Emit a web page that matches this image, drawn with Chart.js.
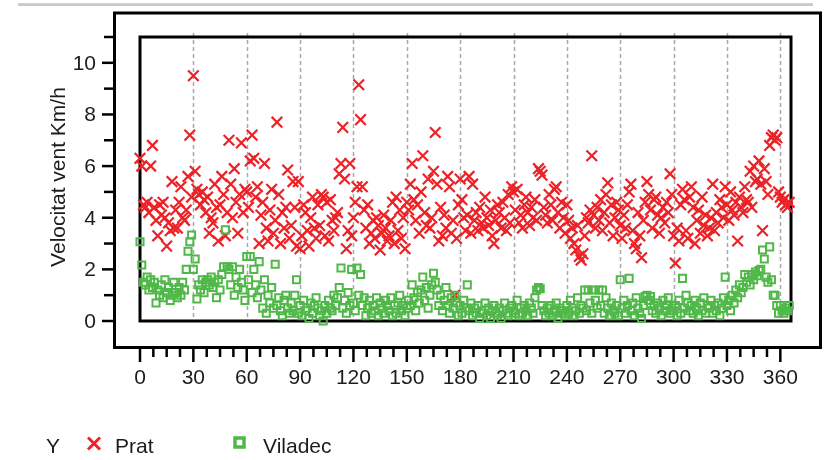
<!DOCTYPE html>
<html>
<head>
<meta charset="utf-8">
<script src="https://cdn.jsdelivr.net/npm/chart.js@4.4.1/dist/chart.umd.min.js"></script>
<style>
  html, body { margin: 0; padding: 0; background: #ffffff; }
  #wrap { width: 827px; height: 460px; position: relative; }
</style>
</head>
<body>
<div id="wrap"><canvas id="c" width="827" height="460"></canvas></div>
<script>
// Daily mean wind speed (km/h), one value per day of the year
const dayCount = 366;
const days = Array.from({ length: dayCount }, (_, i) => i);

const prat = [
  6.3, 6.0, 4.5, 4.4, 4.6, 4.2, 6.0, 6.8, 4.4, 3.9,
  3.3, 4.5, 4.1, 4.6, 4.0, 2.9, 3.8, 3.5, 5.4, 3.6,
  4.3, 3.6, 4.6, 5.2, 4.0, 3.9, 4.3, 5.6, 7.2, 4.8,
  9.5, 5.8, 5.1, 4.9, 4.5, 5.0, 4.7, 4.2, 4.8, 3.4,
  4.0, 3.8, 5.3, 4.4, 3.1, 4.5, 5.6, 4.9, 3.3, 4.2,
  7.0, 5.3, 4.0, 5.9, 4.6, 3.4, 4.9, 6.9, 4.2, 5.1,
  5.0, 4.4, 6.2, 7.2, 6.3, 4.8, 5.2, 3.0, 4.1, 4.6,
  6.1, 3.6, 3.1, 4.3, 5.1, 3.4, 3.9, 7.7, 4.9, 3.0,
  4.2, 3.6, 4.4, 5.85, 3.2, 3.7, 5.4, 4.4, 2.9, 5.4,
  2.8, 3.3, 4.5, 4.2, 3.5, 2.9, 4.0, 4.8, 3.6, 3.2,
  4.5, 3.7, 4.9, 4.8, 3.3, 4.6, 3.1, 4.7, 3.9, 3.5,
  4.0, 4.2, 5.7, 6.1, 7.5, 5.5, 2.8, 3.5, 6.1, 3.3,
  4.0, 4.6, 5.2, 9.15, 7.8, 5.2, 4.3, 3.6, 4.5, 3.0,
  3.4, 3.9, 3.2, 4.0, 3.7, 2.75, 3.4, 4.1, 3.6, 3.1,
  3.3, 3.9, 4.6, 3.0, 4.8, 3.5, 4.3, 3.2, 4.0, 2.8,
  4.6, 4.3, 5.3, 6.1, 4.7, 3.9, 4.5, 3.4, 5.0, 6.4,
  4.2, 3.7, 5.5, 3.6, 4.0, 5.8, 7.3, 5.3, 3.1, 4.4,
  3.3, 4.1, 3.6, 5.6, 5.2, 3.4, 3.9, 1.0, 3.2, 4.5,
  5.5, 4.7, 4.0, 3.5, 4.1, 5.6, 3.4, 5.3, 3.9, 4.2,
  3.5, 4.4, 3.8, 3.6, 4.8, 4.0, 3.7, 4.3, 3.3, 3.0,
  3.9, 4.5, 4.2, 3.6, 4.6, 4.0, 3.5, 4.9, 3.8, 5.2,
  5.0, 4.3, 5.1, 3.8, 4.1, 3.6, 4.5, 4.8, 4.2, 3.7,
  4.4, 4.0, 4.7, 3.9, 5.9, 5.8, 5.65, 4.4, 4.1, 3.8,
  4.9, 4.5, 3.9, 5.1, 5.2, 4.2, 3.6, 4.6, 4.0, 3.4,
  4.5, 3.9, 3.2, 3.6, 3.0, 2.75, 3.7, 2.5, 2.36, 2.6,
  3.3, 4.0, 3.8, 4.3, 6.4, 4.1, 3.6, 4.4, 3.9, 4.7,
  3.5, 4.2, 4.9, 5.35, 3.8, 4.5, 3.3, 4.0, 4.6, 4.3,
  3.7, 3.2, 4.1, 3.6, 4.5, 5.0, 5.3, 3.5, 3.0, 2.8,
  4.2, 3.3, 2.45, 3.9, 4.6, 5.4, 4.9, 4.3, 3.6, 4.7,
  4.8, 4.1, 3.4, 4.0, 4.4, 3.8, 4.6, 4.2, 5.7, 4.9,
  3.3, 2.24, 3.6, 3.1, 4.5, 5.1, 4.7, 3.5, 3.2, 4.8,
  5.2, 4.4, 3.0, 3.9, 4.3, 3.4, 4.8, 3.7, 4.1, 3.3,
  3.6, 4.0, 5.3, 3.5, 4.2, 3.8, 4.7, 4.4, 4.0, 5.2,
  4.5, 3.9, 5.0, 4.3, 4.1, 4.6, 3.1, 4.8, 4.4, 4.2,
  5.2, 4.7, 4.6, 5.8, 4.4, 6.0, 5.4, 5.5, 6.2, 5.3,
  3.5, 5.9, 5.4, 4.9, 6.8, 7.1, 7.2, 7.0, 7.1, 5.0,
  4.8, 4.6, 4.7, 4.5, 4.4, 4.6
];

const viladec = [
  3.07, 2.17, 1.5, 1.4, 1.7, 1.2, 1.6, 1.3, 1.5, 0.7,
  1.2, 1.0, 1.4, 0.9, 1.6, 1.1, 1.3, 0.8, 1.0, 1.5,
  1.1, 0.9, 1.3, 1.0, 1.5, 1.2, 2.0, 2.7, 3.07, 3.33,
  2.0, 2.4, 0.85, 1.4, 1.2, 1.6, 1.1, 1.5, 1.6, 1.4,
  1.7, 1.3, 1.5, 0.9, 1.6, 1.2, 1.8, 2.1, 3.53, 2.1,
  2.0, 1.4, 2.1, 1.0, 1.7, 1.3, 2.0, 1.5, 1.2, 0.8,
  2.5, 1.6, 2.5, 1.1, 2.0, 1.4, 0.9, 2.3, 1.2, 0.5,
  1.6, 0.3, 1.0, 0.7, 1.3, 0.5, 2.2, 0.6, 0.9, 0.4,
  0.2, 0.8, 1.0, 0.5, 0.3, 0.7, 0.4, 1.0, 1.6, 0.3,
  0.6, 0.2, 0.8, 0.4, 0.5, 0.1, 0.7, 0.3, 0.6, 0.9,
  0.5, 0.2, 0.4, 0.0, 0.6, 0.3, 0.8, 0.5, 0.4, 1.0,
  0.6, 0.9, 1.3, 2.05, 0.5, 0.8, 0.3, 1.1, 0.6, 2.0,
  0.7, 0.4, 2.05, 1.0, 1.8, 0.6, 0.9, 0.2, 0.5, 0.8,
  0.3, 0.6, 0.4, 0.9, 0.2, 0.7, 0.5, 0.3, 0.8, 0.6,
  0.4, 0.9, 0.2, 0.6, 0.3, 0.7, 1.0, 0.4, 0.6, 0.2,
  0.5, 0.8, 0.6, 1.4, 0.9, 0.4, 1.1, 0.7, 1.2, 1.7,
  0.8, 1.3, 0.5, 1.0, 1.4, 1.85, 1.5, 1.2, 0.6, 1.0,
  0.4, 0.8, 1.3, 0.6, 0.3, 0.9, 0.5, 1.0, 0.7, 0.2,
  0.6, 0.3, 0.8, 0.5, 1.4, 0.4, 0.7, 0.2, 0.5, 0.3,
  0.6, 0.1, 0.4, 0.3, 0.7, 0.2, 0.5, 0.1, 0.4, 0.6,
  0.3, 0.2, 0.5, 0.1, 0.4, 0.7, 0.3, 0.2, 0.5, 0.6,
  0.4, 0.3, 0.8, 0.2, 0.5, 0.3, 0.6, 0.4, 0.2, 0.7,
  0.5, 0.3, 0.9, 1.2, 1.3, 1.25, 0.6, 0.4, 0.2, 0.5,
  0.3, 0.6, 0.2, 0.4, 0.7, 0.1, 0.5, 0.3, 0.4, 0.2,
  0.6, 0.3, 0.8, 0.5, 0.2, 0.4, 0.9, 0.3, 0.6, 0.5,
  1.2, 0.4, 1.2, 0.7, 0.3, 1.2, 0.8, 0.5, 1.2, 0.6,
  1.2, 0.3, 0.9, 0.5, 0.2, 0.7, 0.4, 0.3, 0.6, 0.2,
  1.6, 0.5, 0.8, 0.3, 0.6, 1.65, 0.4, 0.7, 0.2, 0.9,
  0.5, 0.3, 0.1, 0.6, 0.95, 1.0, 0.8, 0.95, 0.4, 0.6,
  0.3, 0.7, 0.5, 0.2, 0.8, 0.4, 0.6, 0.9, 0.3, 0.5,
  0.4, 0.6, 0.2, 0.8, 0.3, 1.65, 0.5, 1.0, 0.7, 0.4,
  0.6, 0.3, 0.8, 0.5, 0.2, 0.7, 0.4, 0.9, 0.3, 0.6,
  0.5, 0.8, 0.3, 0.6, 0.4, 0.7, 0.2, 0.5, 0.9, 1.7,
  0.6, 0.8, 0.4, 1.0, 0.7, 1.2, 0.9, 1.4, 1.1, 1.3,
  1.8, 1.5, 1.7, 1.4, 1.8, 1.6, 1.9, 1.75, 1.95, 2.0,
  2.75, 2.4, 1.7, 1.5, 2.87, 1.6, 1.0, 1.0, 0.6, 0.3,
  0.6, 0.4, 0.3, 0.5, 0.4, 0.6
];

// Axis ticks
const xTickValues = [0, 30, 60, 90, 120, 150, 180, 210, 240, 270, 300, 330, 360];
const xMinorStep = 7.5;
const yTickValues = [0, 2, 4, 6, 8, 10];
const yMinorValues = [1, 3, 5, 7, 9, 11];

const RED = '#ec2227';
const GREEN = '#50b848';
const INK = '#1c1c1c';
const FONT = '21px "Liberation Sans", Arial, Helvetica, sans-serif';

// Frames, ticks, grid, titles and legend drawn around the plot area
const framePlugin = {
  id: 'frame',
  beforeDatasetsDraw(chart) {
    const ctx = chart.ctx;
    const xs = chart.scales.x, ys = chart.scales.y;
    const area = chart.chartArea;
    ctx.save();

    // soft rule along the top edge
    ctx.strokeStyle = '#d3d3d3';
    ctx.lineWidth = 3;
    ctx.beginPath(); ctx.moveTo(18, 4.5); ctx.lineTo(813, 4.5); ctx.stroke();
    ctx.strokeStyle = '#bdbdbd';
    ctx.lineWidth = 1;
    ctx.beginPath(); ctx.moveTo(18, 5); ctx.lineTo(813, 5); ctx.stroke();

    // outer frame
    const oL = 114.5, oT = 13, oR = 820.5, oB = 347.5;
    ctx.strokeStyle = '#000';
    ctx.lineWidth = 3;
    ctx.strokeRect(oL, oT, oR - oL, oB - oT);

    // dashed vertical grid
    ctx.strokeStyle = '#a8a8a8';
    ctx.lineWidth = 1.5;
    ctx.setLineDash([4, 3]);
    xTickValues.forEach(v => {
      if (v === 0) return;
      const px = Math.round(xs.getPixelForValue(v)) + 0.5;
      ctx.beginPath(); ctx.moveTo(px, area.top - 4); ctx.lineTo(px, area.bottom); ctx.stroke();
    });
    ctx.setLineDash([]);

    // inner plot box
    ctx.strokeStyle = '#000';
    ctx.lineWidth = 3;
    ctx.strokeRect(area.left, area.top, area.right - area.left, area.bottom - area.top);

    // x ticks below the outer frame
    ctx.lineWidth = 2.5;
    const xMax = xTickValues[xTickValues.length - 1];
    for (let v = 0; v <= xMax; v += xMinorStep) {
      const px = xs.getPixelForValue(v);
      const major = xTickValues.includes(v);
      ctx.beginPath(); ctx.moveTo(px, oB + 1); ctx.lineTo(px, major ? 362 : 357); ctx.stroke();
    }
    // y ticks left of the outer frame
    yTickValues.forEach(v => {
      const py = ys.getPixelForValue(v);
      ctx.beginPath(); ctx.moveTo(oL - 1, py); ctx.lineTo(102, py); ctx.stroke();
    });
    yMinorValues.forEach(v => {
      const py = ys.getPixelForValue(v);
      ctx.beginPath(); ctx.moveTo(oL - 1, py); ctx.lineTo(104, py); ctx.stroke();
    });

    // tick labels
    ctx.fillStyle = INK;
    ctx.font = FONT;
    ctx.textAlign = 'center';
    ctx.textBaseline = 'alphabetic';
    xTickValues.forEach(v => ctx.fillText(String(v), xs.getPixelForValue(v), 383.5));
    ctx.textAlign = 'right';
    ctx.textBaseline = 'middle';
    yTickValues.forEach(v => ctx.fillText(String(v), 96, ys.getPixelForValue(v) + 1));

    // y axis title
    ctx.save();
    ctx.translate(65, 177);
    ctx.rotate(-Math.PI / 2);
    ctx.textAlign = 'center';
    ctx.textBaseline = 'alphabetic';
    ctx.fillText('Velocitat vent Km/h', 0, 0);
    ctx.restore();

    // legend
    const ds = chart.data.datasets;
    ctx.textAlign = 'left';
    ctx.textBaseline = 'alphabetic';
    ctx.fillStyle = INK;
    ctx.fillText('Y', 46, 452.5);
    // Prat marker
    ctx.strokeStyle = ds[0].pointBorderColor;
    ctx.lineWidth = 3;
    ctx.beginPath();
    ctx.moveTo(88, 437.5); ctx.lineTo(100, 449.5);
    ctx.moveTo(100, 437.5); ctx.lineTo(88, 449.5);
    ctx.stroke();
    ctx.fillText(ds[0].label, 115, 452.5);
    // Viladec marker
    ctx.strokeStyle = ds[1].pointBorderColor;
    ctx.lineWidth = 3.5;
    ctx.strokeRect(235, 438, 9, 9);
    ctx.fillText(ds[1].label, 263, 452.5);

    ctx.restore();
  }
};

new Chart(document.getElementById('c').getContext('2d'), {
  type: 'scatter',
  data: {
    datasets: [
      {
        label: 'Prat',
        data: days.map((d, i) => ({ x: d, y: prat[i] })),
        pointStyle: 'crossRot',
        pointRadius: 7.5,
        pointBorderWidth: 2.2,
        pointBorderColor: RED,
        pointBackgroundColor: RED,
        borderColor: RED,
        order: 2,
        clip: false
      },
      {
        label: 'Viladec',
        data: days.map((d, i) => ({ x: d, y: viladec[i] })),
        pointStyle: 'rect',
        pointRadius: 5,
        pointBorderWidth: 2,
        pointBorderColor: GREEN,
        pointBackgroundColor: 'rgba(255,255,255,0)',
        borderColor: GREEN,
        order: 1,
        clip: false
      }
    ]
  },
  options: {
    responsive: false,
    animation: false,
    devicePixelRatio: 1,
    events: [],
    layout: { padding: { left: 140, right: 36, top: 37, bottom: 139 } },
    scales: {
      x: { type: 'linear', min: 0, max: 366, display: false },
      y: { type: 'linear', min: 0, max: 11, display: false }
    },
    plugins: {
      legend: { display: false },
      tooltip: { enabled: false }
    }
  },
  plugins: [framePlugin]
});
</script>
</body>
</html>
